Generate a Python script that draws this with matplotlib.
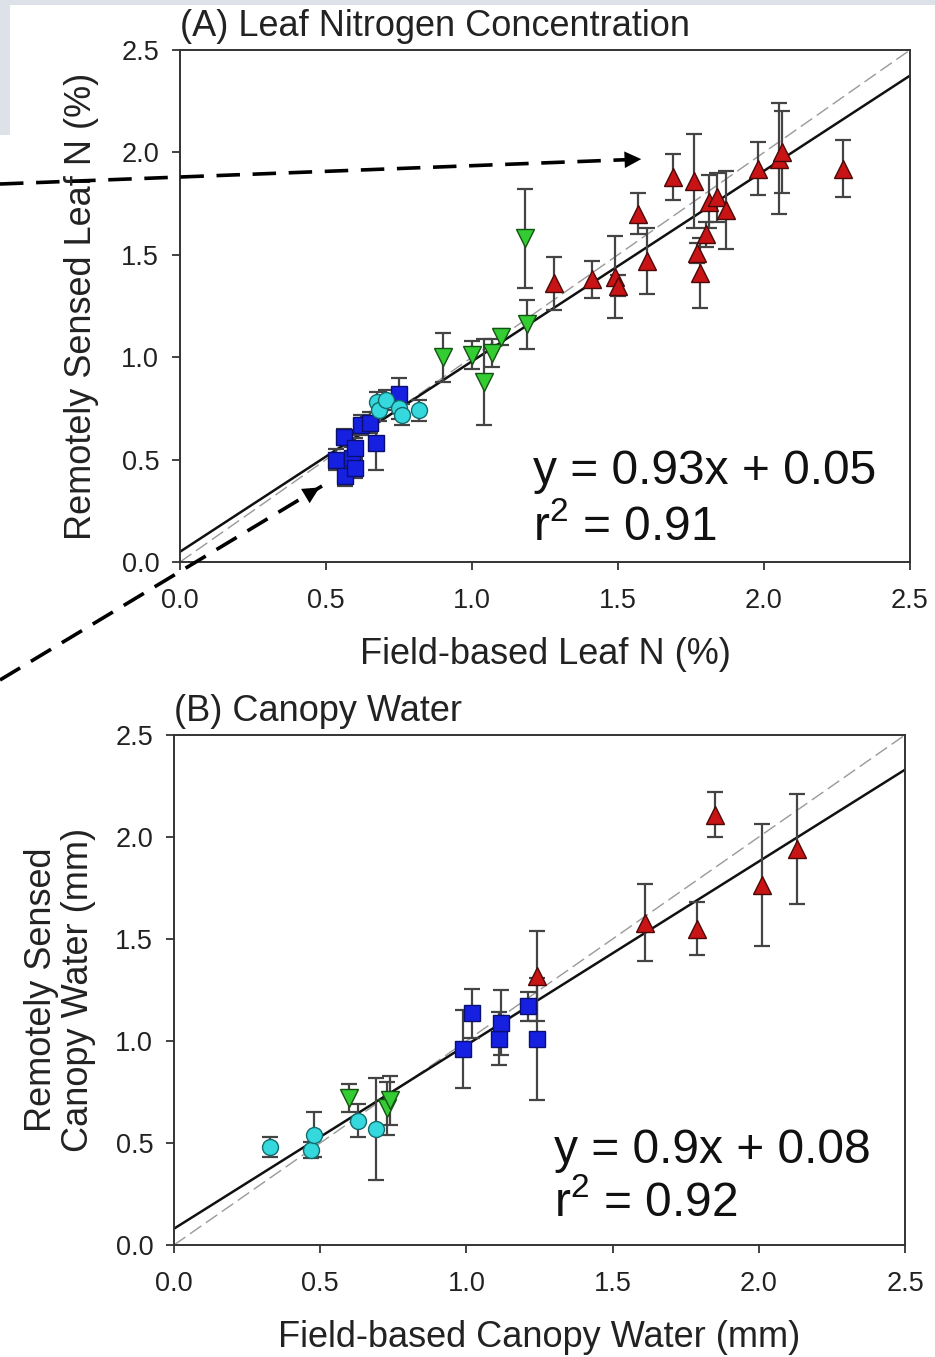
import matplotlib
matplotlib.use("Agg")
import matplotlib.pyplot as plt
import numpy as np
from matplotlib.lines import Line2D
from matplotlib.patches import Rectangle, FancyArrowPatch

plt.rcParams["font.family"] = ["Liberation Sans", "DejaVu Sans"]
plt.rcParams["mathtext.default"] = "regular"

# ---- Panel A: leaf nitrogen (%) ----
a_red_x = [1.28, 1.41, 1.49, 1.50, 1.57, 1.60, 1.69, 1.76, 1.77, 1.78, 1.80, 1.81, 1.84, 1.87, 1.98, 2.05, 2.06, 2.27]
a_red_y = [1.36, 1.38, 1.39, 1.35, 1.70, 1.47, 1.88, 1.86, 1.51, 1.41, 1.60, 1.76, 1.78, 1.72, 1.92, 1.97, 2.00, 1.92]
a_red_e = [0.13, 0.09, 0.20, 0.05, 0.10, 0.16, 0.11, 0.23, 0.05, 0.17, 0.06, 0.13, 0.12, 0.19, 0.13, 0.27, 0.20, 0.14]

a_green_x = [0.90, 1.00, 1.04, 1.07, 1.10, 1.18, 1.19]
a_green_y = [1.00, 1.01, 0.88, 1.02, 1.10, 1.58, 1.16]
a_green_e = [0.12, 0.07, 0.21, 0.07, 0.04, 0.24, 0.12]

a_blue_x = [0.535, 0.56, 0.565, 0.59, 0.60, 0.60, 0.62, 0.65, 0.67, 0.75]
a_blue_y = [0.50, 0.61, 0.42, 0.51, 0.46, 0.555, 0.67, 0.68, 0.58, 0.82]
a_blue_e = [0.05, 0.04, 0.05, 0.05, 0.05, 0.05, 0.05, 0.05, 0.13, 0.08]

a_cyan_x = [0.675, 0.68, 0.705, 0.75, 0.76, 0.82]
a_cyan_y = [0.78, 0.74, 0.79, 0.75, 0.72, 0.74]
a_cyan_e = [0.05, 0.05, 0.05, 0.05, 0.05, 0.05]

a_fit = (0.93, 0.05)
a_r2 = 0.91

# ---- Panel B: canopy water (mm) ----
b_cyan_x = [0.33, 0.47, 0.48, 0.63, 0.69]
b_cyan_y = [0.48, 0.465, 0.54, 0.61, 0.57]
b_cyan_e = [0.05, 0.04, 0.11, 0.08, 0.25]

b_green_x = [0.60, 0.73, 0.74]
b_green_y = [0.72, 0.67, 0.71]
b_green_e = [0.07, 0.13, 0.12]

b_blue_x = [0.99, 1.02, 1.11, 1.12, 1.21, 1.24]
b_blue_y = [0.96, 1.135, 1.01, 1.09, 1.17, 1.01]
b_blue_e = [0.19, 0.12, 0.13, 0.16, 0.07, 0.30]

b_red_x = [1.24, 1.61, 1.79, 1.85, 2.01, 2.13]
b_red_y = [1.32, 1.58, 1.55, 2.11, 1.765, 1.94]
b_red_e = [0.22, 0.19, 0.13, 0.11, 0.30, 0.27]

b_fit = (0.9, 0.08)
b_r2 = 0.92

ticks = [0.0, 0.5, 1.0, 1.5, 2.0, 2.5]

STYLES = {
    "red":   dict(marker="^", color="#c81414", mec="#4a0808", ms=13),
    "green": dict(marker="v", color="#33cc33", mec="#145214", ms=13),
    "blue":  dict(marker="s", color="#1520e0", mec="#0a0f70", ms=11),
    "cyan":  dict(marker="o", color="#35d8dc", mec="#136b6d", ms=11.5),
}

W, H = 935, 1357
fig = plt.figure(figsize=(W / 100, H / 100), dpi=100)

# slide remnants on the left edge
fig.add_artist(Rectangle((0, 1 - 135 / H), 10 / W, 135 / H, transform=fig.transFigure,
                         color="#dde2e8", lw=0, zorder=0))
fig.add_artist(Rectangle((0, 1 - 5 / H), 1, 5 / H, transform=fig.transFigure,
                         color="#dde2e8", lw=0, zorder=0))


def draw_panel(ax, groups, fit, r2, title, xlabel, ylabel, ylabelpad, eq_pos):
    xx = np.array([0.0, 2.5])
    ax.plot(xx, xx, color="#999999", lw=1.0, ls=(0, (10, 4)), zorder=2)
    ax.plot(xx, fit[0] * xx + fit[1], color="#111111", lw=1.8, zorder=2)
    for name, x, y, e in groups:
        st = STYLES[name]
        ax.errorbar(x, y, yerr=e, fmt="none", ecolor="#444444", elinewidth=1.6,
                    capsize=6, capthick=1.6, zorder=3)
        ax.plot(x, y, ls="none", marker=st["marker"], color=st["color"],
                mec=st["mec"], mew=1.0, ms=st["ms"], zorder=4)
    ax.set_xlim(0, 2.5)
    ax.set_ylim(0, 2.5)
    ax.set_xticks(ticks)
    ax.set_yticks(ticks)
    ax.set_xticklabels([f"{t:.1f}" for t in ticks])
    ax.set_yticklabels([f"{t:.1f}" for t in ticks])
    ax.tick_params(direction="out", length=6, width=1.2, labelsize=19.5, pad=13, colors="#222222")
    ax.tick_params(axis="y", pad=9)
    for s in ax.spines.values():
        s.set_linewidth(1.4)
        s.set_color("#333333")
    ax.set_xlabel(xlabel, fontsize=26, labelpad=16, color="#222222")
    ax.set_ylabel(ylabel, fontsize=26, labelpad=ylabelpad, color="#222222", linespacing=1.05)
    ax.text(0.0, 1.012, title, transform=ax.transAxes, ha="left", va="bottom",
            fontsize=26, color="#222222")
    sign = "+" if fit[1] >= 0 else "-"
    ex, ey1, ey2 = eq_pos
    ax.text(ex, ey1, f"y = {fit[0]:g}x {sign} {abs(fit[1]):.2f}", transform=ax.transAxes,
            ha="left", va="center", fontsize=34.5, color="#111111")
    ax.text(ex, ey2, f"r$^{{2}}$ = {r2:.2f}", transform=ax.transAxes,
            ha="left", va="center", fontsize=34.5, color="#111111")


axA = fig.add_axes([180 / W, 1 - 562 / H, 730 / W, 512 / H])
draw_panel(axA,
           [("red", a_red_x, a_red_y, a_red_e), ("green", a_green_x, a_green_y, a_green_e),
            ("blue", a_blue_x, a_blue_y, a_blue_e), ("cyan", a_cyan_x, a_cyan_y, a_cyan_e)],
           a_fit, a_r2, "(A) Leaf Nitrogen Concentration", "Field-based Leaf N (%)",
           "Remotely Sensed Leaf N (%)", 16, (0.484, 0.176, 0.068))

axB = fig.add_axes([174 / W, 1 - 1245 / H, 731 / W, 510 / H])
draw_panel(axB,
           [("red", b_red_x, b_red_y, b_red_e), ("green", b_green_x, b_green_y, b_green_e),
            ("blue", b_blue_x, b_blue_y, b_blue_e), ("cyan", b_cyan_x, b_cyan_y, b_cyan_e)],
           b_fit, b_r2, "(B) Canopy Water", "Field-based Canopy Water (mm)",
           "Remotely Sensed\nCanopy Water (mm)", 14, (0.52, 0.186, 0.083))


# dashed pointer arrows coming in from the left edge (figure pixels, y from top)
def pointer(x0, y0, x1, y1):
    p0 = (x0 / W, 1 - y0 / H)
    p1 = (x1 / W, 1 - y1 / H)
    fig.add_artist(Line2D([p0[0], p1[0]], [p0[1], p1[1]], transform=fig.transFigure,
                          color="black", lw=2.6, ls=(0, (6.5, 3.5)), zorder=10))
    d = np.array(p1) - np.array(p0)
    back = (p1[0] - d[0] * 0.04, p1[1] - d[1] * 0.04)
    fig.add_artist(FancyArrowPatch(back, p1, transform=fig.transFigure,
                                   arrowstyle="-|>", mutation_scale=30,
                                   color="black", lw=0, zorder=11))


pointer(0, 184, 644, 159)
pointer(0, 680, 322, 486)

fig.savefig("out.png", dpi=100)
